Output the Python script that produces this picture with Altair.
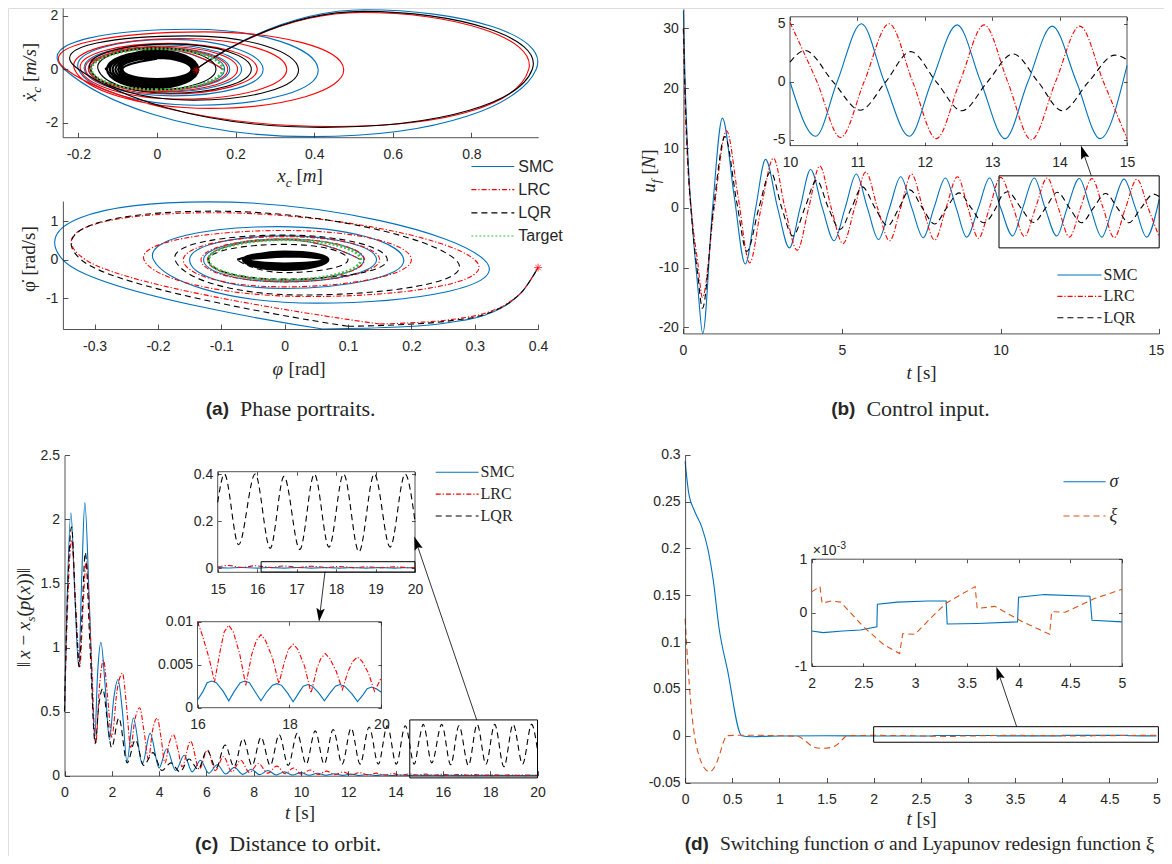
import altair as alt
import pandas as pd

# ======================= DATA =======================
# (a) top: x_c [m] vs xdot_c [m/s]; start point, then the successive extreme points of each swing
A1_SMC = [(0.100, 0.00), (0.530, 2.23), (0.965, 0.00), (0.395, -2.53), (-0.236, 0.00),
          (0.087, 1.50), (0.410, 0.00), (0.105, -1.35), (-0.200, 0.00), (0.035, 1.12),
          (0.270, 0.00), (0.040, -1.00), (-0.185, 0.00), (0.015, 0.92), (0.215, 0.00),
          (0.020, -0.85), (-0.175, 0.00), (0.007, 0.82), (0.185, 0.00), (0.008, -0.79),
          (-0.170, 0.00), (0.002, 0.78), (0.172, 0.00), (0.002, -0.77), (-0.168, 0.00),
          (0.000, 0.77), (0.167, 0.00)]
A1_LRC = [(0.100, 0.00), (0.520, 2.13), (0.946, 0.00), (0.445, -2.15), (-0.232, 0.00),
          (0.120, 1.40), (0.475, 0.00), (0.135, -1.47), (-0.210, 0.00), (0.060, 1.15),
          (0.330, 0.00), (0.065, -1.12), (-0.195, 0.00), (0.030, 0.97), (0.255, 0.00),
          (0.030, -0.93), (-0.182, 0.00), (0.012, 0.86), (0.205, 0.00), (0.012, -0.83),
          (-0.174, 0.00), (0.005, 0.80), (0.180, 0.00), (0.005, -0.78), (-0.169, 0.00),
          (0.001, 0.775), (0.168, 0.00)]
A1_LQR = [(0.100, 0.00), (0.525, 2.17), (0.955, 0.00), (0.418, -2.18), (-0.200, 0.00),
          (0.080, 1.25), (0.360, 0.00), (0.095, -1.16), (-0.170, 0.00), (0.035, 0.95),
          (0.240, 0.00), (0.035, -0.90), (-0.150, 0.00), (0.000, 0.80), (0.150, 0.00),
          (0.000, -0.77), (-0.132, 0.00)]
A1_LQR_BLOB = [(-0.132, 0.00), (-0.010, 0.72), (0.105, 0.00), (-0.010, -0.72), (-0.127, 0.00),
               (-0.008, 0.66), (0.102, 0.00), (-0.008, -0.66), (-0.120, 0.00),
               (-0.006, 0.60), (0.099, 0.00), (-0.006, -0.60), (-0.113, 0.00),
               (-0.004, 0.55), (0.096, 0.00), (-0.004, -0.54), (-0.106, 0.00),
               (-0.002, 0.50), (0.093, 0.00), (-0.002, -0.48), (-0.099, 0.00),
               (0.000, 0.45), (0.090, 0.00), (0.000, -0.42), (-0.093, 0.00),
               (0.000, 0.42), (0.088, 0.00), (0.000, -0.37), (-0.088, 0.00), (0.000, 0.40)]
A1_TARGET = [(0.167, 0.00), (0.000, -0.77), (-0.167, 0.00), (0.000, 0.77)]
A1_START = [(0.100, -0.04)]

# (a) bottom: phi [rad] vs phidot [rad/s]; first falling arc from the start point ...
A2_SMC_START = [(0.400, -0.20), (0.392, -0.42), (0.377, -0.78), (0.356, -1.10), (0.318, -1.42),
                (0.260, -1.62), (0.180, -1.74), (0.060, -1.79)]
A2_LRC_START = [(0.400, -0.20), (0.392, -0.42), (0.377, -0.78), (0.356, -1.08), (0.320, -1.36),
                (0.270, -1.53), (0.210, -1.62), (0.150, -1.66)]
A2_LQR_START = [(0.400, -0.20), (0.392, -0.42), (0.377, -0.78), (0.356, -1.09), (0.318, -1.40),
                (0.260, -1.58), (0.180, -1.68), (0.100, -1.72)]
# ... then the successive extreme points
A2_SMC = [(0.060, -1.79), (-0.350, 0.00), (-0.120, 1.50), (0.315, 0.00),
          (0.050, -1.12), (-0.207, 0.00), (-0.010, 0.86), (0.188, 0.00), (0.000, -0.74),
          (-0.150, 0.00), (0.000, 0.62), (0.145, 0.00), (0.000, -0.57), (-0.128, 0.00),
          (0.000, 0.54), (0.125, 0.00), (0.000, -0.53), (-0.121, 0.00), (0.000, 0.52),
          (0.120, 0.00)]
A2_LRC = [(0.150, -1.66), (-0.314, 0.00), (-0.110, 1.22), (0.300, 0.00),
          (0.040, -0.95), (-0.222, 0.00), (0.000, 0.76), (0.200, 0.00), (0.000, -0.70),
          (-0.160, 0.00), (0.000, 0.60), (0.150, 0.00), (0.000, -0.57), (-0.132, 0.00),
          (0.000, 0.54), (0.126, 0.00), (0.000, -0.53), (-0.122, 0.00), (0.000, 0.52),
          (0.120, 0.00)]
A2_LQR = [(0.100, -1.72), (-0.321, 0.00), (-0.110, 1.26), (0.270, 0.00),
          (0.030, -0.91), (-0.173, 0.00), (0.000, 0.64), (0.162, 0.00), (0.000, -0.50),
          (-0.120, 0.00), (0.000, 0.40), (0.100, 0.00), (0.000, -0.33), (-0.075, 0.00)]
A2_LQR_BLOB = [(-0.075, 0.00), (0.000, 0.21), (0.069, 0.00), (0.000, -0.26), (-0.066, 0.00),
               (0.000, 0.18), (0.067, 0.00), (0.000, -0.22), (-0.064, 0.00),
               (0.000, 0.155), (0.065, 0.00), (0.000, -0.185), (-0.062, 0.00),
               (0.000, 0.13), (0.064, 0.00), (0.000, -0.15), (-0.060, 0.00),
               (0.000, 0.11), (0.062, 0.00), (0.000, -0.12), (-0.057, 0.00),
               (0.000, 0.09), (0.060, 0.00), (0.000, -0.095), (-0.054, 0.00), (0.000, 0.08)]
A2_TARGET = [(0.120, 0.00), (0.000, -0.52), (-0.120, 0.00), (0.000, 0.52)]
A2_START = [(0.400, -0.20)]

# (b) control input u_f [N] vs t [s]
B_SMC = [(0.0, 33.0), (0.05, 22.0), (0.13, 10.0), (0.3, -4.0), (0.45, -13.0), (0.61, -21.0),
         (0.92, 0.0), (1.23, 15.0), (1.6, 2.0), (1.95, -9.4), (2.28, 0.0), (2.59, 8.1),
         (2.97, 0.0), (3.34, -6.7), (3.68, 0.0), (4.01, 6.4), (4.38, 0.0), (4.75, -5.5),
         (5.1, 0.0), (5.45, 5.65), (5.8, 0.0), (6.15, -5.3), (6.5, 0.0), (6.85, 5.2),
         (7.2, 0.0), (7.56, -5.0), (7.9, 0.0), (8.26, 5.0), (8.6, 0.0), (8.93, -4.9),
         (9.3, 0.0), (9.65, 5.0), (10.0, 0.0), (10.38, -4.7), (10.7, 0.0), (11.06, 5.0),
         (11.4, 0.0), (11.77, -4.7), (12.1, 0.0), (12.48, 4.9), (12.83, 0.0), (13.19, -4.9),
         (13.53, 0.0), (13.89, 4.8), (14.25, 0.0), (14.6, -4.9), (15.0, 1.4)]
B_LRC = [(0.0, 30.0), (0.05, 18.0), (0.13, 8.0), (0.3, -3.0), (0.45, -9.0), (0.6, -15.0),
         (0.97, 0.0), (1.36, 12.9), (1.72, 2.0), (2.09, -9.2), (2.45, 0.0), (2.84, 8.3),
         (3.2, 0.0), (3.59, -7.1), (3.95, 0.0), (4.3, 7.0), (4.66, 0.0), (5.03, -6.0),
         (5.4, 0.0), (5.75, 6.0), (6.12, 0.0), (6.5, -5.5), (6.85, 0.0), (7.19, 5.65),
         (7.55, 0.0), (7.92, -5.4), (8.28, 0.0), (8.64, 5.2), (8.97, 0.0), (9.3, -5.1),
         (9.65, 0.0), (10.0, 5.1), (10.4, 0.0), (10.75, -4.8), (11.1, 0.0), (11.47, 5.0),
         (11.82, 0.0), (12.17, -4.9), (12.52, 0.0), (12.88, 4.9), (13.23, 0.0), (13.58, -5.0),
         (13.94, 0.0), (14.3, 4.8), (14.65, 0.0), (15.0, -4.9)]
B_LQR = [(0.0, 30.0), (0.05, 20.0), (0.13, 9.0), (0.3, -4.0), (0.45, -11.0), (0.6, -16.8),
         (0.95, 0.0), (1.31, 11.9), (1.68, 1.0), (2.0, -7.3), (2.38, 0.0), (2.75, 6.0),
         (3.1, 0.0), (3.45, -4.7), (3.83, 0.0), (4.2, 4.6), (4.57, 0.0), (4.94, -3.6),
         (5.3, 0.0), (5.64, 3.5), (6.04, 0.0), (6.44, -3.0), (6.8, 0.0), (7.14, 3.0),
         (7.53, 0.0), (7.92, -2.7), (8.3, 0.0), (8.69, 2.5), (9.07, 0.0), (9.46, -2.5),
         (9.85, 0.0), (10.0, 1.7), (10.22, 2.7), (10.64, 0.0), (11.04, -2.45), (11.42, 0.0),
         (11.79, 2.6), (12.17, 0.0), (12.55, -2.5), (12.93, 0.0), (13.31, 2.4), (13.68, 0.0),
         (14.04, -2.5), (14.43, 0.0), (14.82, 2.3), (15.0, 1.9)]

# (c) distance to orbit vs t [s]
C_SMC = [(0.0, 0.50), (0.1, 1.30), (0.27, 2.05), (0.44, 1.40), (0.6, 0.85), (0.73, 1.55),
         (0.86, 2.13), (1.06, 1.30), (1.28, 0.30), (1.4, 0.80), (1.54, 1.04), (1.72, 0.70),
         (1.9, 0.28), (2.08, 0.60), (2.26, 0.75), (2.45, 0.50), (2.64, 0.11), (2.91, 0.45),
         (3.29, 0.09), (3.62, 0.33), (4.0, 0.06), (4.32, 0.21), (4.7, 0.04), (5.06, 0.16),
         (5.4, 0.03), (5.75, 0.12), (6.1, 0.02), (6.46, 0.085), (6.82, 0.013), (7.18, 0.065),
         (7.54, 0.010), (7.9, 0.05), (8.25, 0.008), (8.6, 0.04), (8.95, 0.006), (9.3, 0.03),
         (9.65, 0.005), (10.0, 0.024), (10.35, 0.004), (10.7, 0.019), (11.05, 0.003),
         (11.4, 0.015), (11.75, 0.0025), (12.1, 0.012), (12.45, 0.002), (12.8, 0.009),
         (13.15, 0.0015), (13.5, 0.007), (13.85, 0.0012), (14.2, 0.0055), (14.55, 0.001),
         (14.9, 0.0045), (15.0, 0.0040), (15.25, 0.001), (15.6, 0.0037),
         (16.0, 0.0009), (16.12, 0.0019), (16.21, 0.0029), (16.31, 0.0031), (16.41, 0.0029),
         (16.56, 0.0019), (16.68, 0.0008), (16.8, 0.0019), (16.93, 0.0029), (17.03, 0.0031),
         (17.13, 0.0029), (17.26, 0.0018), (17.38, 0.0008), (17.5, 0.0018), (17.63, 0.0026),
         (17.73, 0.0028), (17.83, 0.0026), (17.96, 0.0017), (18.08, 0.0007), (18.2, 0.0017),
         (18.3, 0.0025), (18.4, 0.0027), (18.5, 0.0025), (18.64, 0.0017), (18.76, 0.0008),
         (18.88, 0.0017), (19.0, 0.0025), (19.1, 0.0027), (19.2, 0.0025), (19.36, 0.0016),
         (19.48, 0.0007), (19.6, 0.0015), (19.69, 0.0022), (19.79, 0.0024), (19.89, 0.0022),
         (20.0, 0.0018)]
C_LRC = [(0.0, 0.50), (0.1, 1.15), (0.3, 1.84), (0.48, 1.30), (0.65, 0.85), (0.78, 1.30),
         (0.92, 1.67), (1.12, 1.00), (1.32, 0.25), (1.48, 0.70), (1.65, 0.90), (1.82, 0.62),
         (2.0, 0.30), (2.22, 0.66), (2.45, 0.80), (2.62, 0.55), (2.8, 0.22), (2.97, 0.43),
         (3.18, 0.53), (3.36, 0.35), (3.55, 0.13), (3.72, 0.35), (3.92, 0.45), (4.08, 0.30),
         (4.25, 0.10), (4.42, 0.25), (4.6, 0.32), (4.8, 0.20), (4.97, 0.07), (5.33, 0.27),
         (5.7, 0.05), (6.04, 0.20), (6.38, 0.04), (6.72, 0.15), (7.08, 0.03), (7.45, 0.12),
         (7.82, 0.025), (8.2, 0.095), (8.6, 0.02), (8.98, 0.075), (9.33, 0.015), (9.68, 0.06),
         (10.03, 0.012), (10.38, 0.045), (10.73, 0.010), (11.08, 0.036), (11.43, 0.008),
         (11.78, 0.030), (12.13, 0.007), (12.48, 0.024), (12.83, 0.006), (13.18, 0.020),
         (13.53, 0.005), (13.88, 0.016), (14.23, 0.0045), (14.58, 0.014), (14.93, 0.004),
         (15.0, 0.0055), (15.28, 0.012), (15.63, 0.0035), (15.95, 0.0108),
         (16.0, 0.0101), (16.1, 0.0085), (16.25, 0.0058), (16.37, 0.0030), (16.5, 0.0068),
         (16.58, 0.0088), (16.68, 0.0096), (16.78, 0.0088), (16.92, 0.0062), (17.05, 0.0026),
         (17.18, 0.0062), (17.28, 0.0078), (17.38, 0.0085), (17.48, 0.0078), (17.63, 0.0058),
         (17.77, 0.0028), (17.9, 0.0055), (17.98, 0.0068), (18.08, 0.0074), (18.18, 0.0068),
         (18.33, 0.0048), (18.47, 0.0017), (18.6, 0.0046), (18.68, 0.0057), (18.78, 0.0063),
         (18.88, 0.0057), (19.02, 0.0042), (19.15, 0.0021), (19.28, 0.0043), (19.38, 0.0054),
         (19.48, 0.0059), (19.58, 0.0054), (19.72, 0.0040), (19.85, 0.0019), (20.0, 0.0035)]
C_LQR = [(0.0, 0.50), (0.1, 1.25), (0.3, 1.94), (0.47, 1.30), (0.62, 0.85), (0.75, 1.30),
         (0.88, 1.74), (1.08, 1.00), (1.3, 0.25), (1.45, 0.55), (1.62, 0.68), (1.8, 0.45),
         (1.99, 0.22), (2.3, 0.45), (2.65, 0.10), (3.0, 0.28), (3.35, 0.08), (3.74, 0.18),
         (4.12, 0.04), (4.5, 0.10), (4.88, 0.03), (5.27, 0.13), (5.65, 0.05), (6.03, 0.20),
         (6.41, 0.06), (6.79, 0.24), (7.17, 0.07), (7.55, 0.29), (7.93, 0.08), (8.31, 0.30),
         (8.7, 0.08), (9.08, 0.32), (9.46, 0.08), (9.84, 0.33), (10.22, 0.09), (10.6, 0.35),
         (10.98, 0.09), (11.36, 0.36), (11.74, 0.09), (12.12, 0.37), (12.5, 0.09), (12.88, 0.38),
         (13.27, 0.09), (13.65, 0.39), (14.03, 0.09), (14.41, 0.39), (14.79, 0.09), (15.0, 0.28),
         (15.17, 0.40), (15.53, 0.10), (15.95, 0.40), (16.33, 0.085), (16.68, 0.39),
         (17.08, 0.08), (17.45, 0.40), (17.82, 0.09), (18.19, 0.40), (18.58, 0.07),
         (18.97, 0.40), (19.37, 0.09), (19.75, 0.40), (20.0, 0.20)]

# (d) sigma and xi vs t [s]
D_SIGMA = [(0.0, 0.293), (0.04, 0.258), (0.1, 0.240), (0.18, 0.222), (0.24, 0.200),
           (0.3, 0.165), (0.36, 0.115), (0.45, 0.070), (0.6, 0.0), (0.7, -0.0012),
           (0.8, -0.0008), (1.0, -0.0003), (1.5, 0.0), (2.0, -0.00034), (2.11, -0.00037),
           (2.3, -0.00034), (2.47, -0.00032), (2.63, -0.00026), (2.635, 0.00016),
           (2.83, 0.00020), (3.12, 0.00022), (3.3, 0.00022), (3.31, -0.00021), (3.6, -0.00020),
           (3.99, -0.00017), (4.0, 0.00029), (4.25, 0.00034), (4.69, 0.00031), (4.71, -0.00014),
           (5.0, -0.00017)]
D_XI = [(0.0, 0.125), (0.03, 0.075), (0.06, 0.035), (0.1, 0.0), (0.15, -0.022),
        (0.2, -0.034), (0.26, -0.0385), (0.31, -0.034), (0.36, -0.022), (0.41, -0.006),
        (0.44, 0.0), (0.6, 0.0005), (1.0, 0.0), (1.2, -0.0008), (1.28, -0.006),
        (1.36, -0.012), (1.45, -0.0135), (1.55, -0.0125), (1.62, -0.009), (1.68, -0.003),
        (1.72, 0.0), (1.85, 0.0002), (2.0, 0.00039), (2.08, 0.00049), (2.1, 0.00018),
        (2.19, 0.00022), (2.28, 0.00020), (2.5, -0.00026), (2.7, -0.00060), (2.85, -0.00076),
        (2.88, -0.00039), (3.0, -0.00040), (3.15, -0.00010), (3.3, 0.00018), (3.58, 0.00049),
        (3.6, 0.00008), (3.77, 0.00012), (4.04, -0.00017), (4.3, -0.00040), (4.32, 0.00002),
        (4.45, 0.00001), (4.74, 0.00027), (5.0, 0.00044)]

# zoom boxes (system, x0, x1, y0, y1) and arrows (system, x0, y0, x1, y1, angle)
ZOOM_BOXES = [("B", 9.95, 15.0, -6.7, 5.35), ("C", 14.6, 20.0, -0.017, 0.435),
              ("CI1", 16.1, 20.0, -0.016, 0.028), ("D", 2.0, 5.02, -0.007, 0.0096)]
ARROWS = [("B", 12.86, 5.35, 12.625, 8.93, 341.6), ("C", 17.43, 0.435, 14.918, 1.796, 341.2),
          ("C", 11.015, 1.591, 10.808, 1.273, 186.8), ("D", 3.517, 0.0096, 3.333, 0.0643, 341.2)]

# tick values
A1_XT = [-0.2, 0, 0.2, 0.4, 0.6, 0.8]
A1_YT = [-2, 0, 2]
A2_XT = [-0.3, -0.2, -0.1, 0, 0.1, 0.2, 0.3, 0.4]
A2_YT = [-1, 0, 1]
B_XT = [0, 5, 10, 15]
B_YT = [-20, -10, 0, 10, 20, 30]
BI_XT = [10, 11, 12, 13, 14, 15]
BI_YT = [-5, 0, 5]
C_XT = [0, 2, 4, 6, 8, 10, 12, 14, 16, 18, 20]
C_YT = [0, 0.5, 1, 1.5, 2, 2.5]
CI1_XT = [15, 16, 17, 18, 19, 20]
CI1_YT = [0, 0.2, 0.4]
CI2_XT = [16, 18, 20]
CI2_YT = [0, 0.005, 0.01]
D_XT = [0, 0.5, 1, 1.5, 2, 2.5, 3, 3.5, 4, 4.5, 5]
D_YT = [-0.05, 0, 0.05, 0.1, 0.15, 0.2, 0.25, 0.3]
DI_XT = [2, 2.5, 3, 3.5, 4, 4.5, 5]
DI_YT = [-0.001, 0, 0.001]

SERIES3 = ["SMC", "LRC", "LQR"]
SERIES4 = ["SMC", "LRC", "LQR", "Target"]
SERIES_D = ["σ", "ξ"]

# axis titles with math styling: (system, x, y, angle, [(text, italic, subscript), ...])
TITLES = [
    ("A1", 0.364, -4.231, 0, [("x", 1, 0), ("c", 1, 1), (" [", 0, 0), ("m", 1, 0), ("]", 0, 0)]),
    ("A1", -0.3079, -0.105, 270, [("ẋ", 1, 0), ("c", 1, 1), (" [", 0, 0), ("m/s", 1, 0), ("]", 0, 0)]),
    ("A2", 0.0243, -2.981, 0, [("φ", 1, 0), (" [rad]", 0, 0)]),
    ("A2", -0.3940, 0.047, 270, [("φ̇", 0, 0), (" [rad/s]", 0, 0)]),
    ("B", 7.51, -28.63, 0, [("t", 1, 0), (" [s]", 0, 0)]),
    ("B", -0.895, 6.15, 270, [("u", 1, 0), ("f", 1, 1), (" [", 0, 0), ("N", 1, 0), ("]", 0, 0)]),
    ("C", 9.958, -0.3378, 0, [("t", 1, 0), (" [s]", 0, 0)]),
    ("C", -1.458, 1.2457, 270, [("‖", 0, 0), ("x", 1, 0), (" − ", 0, 0), ("x", 1, 0), ("s", 1, 1),
                               ("(", 0, 0), ("p", 1, 0), ("(", 0, 0), ("x", 1, 0), ("))", 0, 0),
                               ("‖", 0, 0)]),
    ("D", 2.508, -0.0954, 0, [("t", 1, 0), (" [s]", 0, 0)]),
]

# caption anchors (system, x, y, tag, text, text size)
CAPTIONS = [("A2", -0.080, -3.868, "(a)", "Phase portraits.", 22),
            ("B", 5.580, -33.7, "(b)", "Control input.", 22),
            ("C", 6.712, -0.533, "(c)", "Distance to orbit.", 22),
            ("D", 0.3055, -0.1157, "(d)", "Switching function σ and Lyapunov redesign function ξ", 19.5)]

# ======================= LAYOUT / STYLE =======================
W, H, M = 1156, 848, 8
DARK = "#262626"
BLUE, RED, BLACK, GREEN, ORANGE = "#0072BD", "#FF0000", "#000000", "#44BB44", "#D95319"
SANS, SERIF = "Liberation Sans", "Liberation Serif"
LRC_DASH, LQR_DASH, TGT_DASH, XI_DASH, SOLID = [5, 2, 1.2, 2], [6, 4], [2, 2], [6, 4], [1, 0]
TENSION = -0.657
LBL = "'' + datum.value"
STAR = "M-1,0L1,0M0,-1L0,1M-0.7,-0.7L0.7,0.7M-0.7,0.7L0.7,-0.7"
HEAD = "M0,-1L0.45,0.45L0,0.2L-0.45,0.45Z"
TICK_FS = 14
TITLE_FS, SUB_FS = 19, 13.5
CHAR_W = {" ": 0.25, "[": 0.333, "]": 0.333, "/": 0.278, "(": 0.333, ")": 0.333, "x": 0.444,
          "c": 0.444, "m": 0.722, "s": 0.389, "u": 0.5, "f": 0.278, "N": 0.667, "t": 0.278,
          "r": 0.389, "a": 0.5, "d": 0.5, "p": 0.5, "φ": 0.6, "ẋ": 0.444, "−": 0.564,
          "‖": 0.45, "\u0307": 0.0}

# coordinate systems: x-domain, x-pixels, y-domain, y-pixels (page coordinates)
SYS = {
    "A1": ([-0.24, 0.97], [62.7, 538.2], [-2.55, 2.3], [137.2, 7.9]),
    "A2": ([-0.35, 0.40], [62.9, 538.1], [-1.79, 1.52], [329.0, 201.1]),
    "B": ([0, 15], [683.4, 1159.2], [-21, 33.3], [333.4, 8.7]),
    "BI": ([10, 15], [790.0, 1127.0], [-5.5, 5.6], [145.6, 16.8]),
    "C": ([0, 20], [64.5, 537.5], [0, 2.5], [775.7, 455.2]),
    "CI1": ([15, 20], [217.7, 415.0], [-0.017, 0.41], [572.3, 471.7]),
    "CI2": ([16, 20], [197.5, 381.4], [0, 0.01], [707.7, 621.7]),
    "D": ([0, 5], [685.1, 1156.5], [-0.05, 0.3], [782.5, 454.8]),
    "DI": ([2, 5], [811.7, 1122.0], [-0.001, 0.001], [666.4, 559.2]),
}
LEG = {  # labels, y-pixels, x-pixels of line sample
    "A": (SERIES4, [166.5, 236.0], [471.4, 514.3]),
    "B": (SERIES3, [275.0, 317.7], [1057.4, 1101.5]),
    "C": (SERIES3, [472.3, 516.0], [435.7, 478.6]),
    "D": (SERIES_D, [481.7, 516.0], [1063.5, 1105.6]),
}


def XY(name, xf="x", yf="y", xaxis=None, yaxis=None):
    xd, xr, yd, yr = SYS[name]
    xs = alt.Scale(domain=xd, range=[xr[0] - M, xr[1] - M], nice=False, zero=False)
    ys = alt.Scale(domain=yd, range=[yr[0] - M, yr[1] - M], nice=False, zero=False,
                   clamp=(name == "CI2"))
    return {"x": alt.X(xf, type="quantitative", scale=xs, axis=xaxis),
            "y": alt.Y(yf, type="quantitative", scale=ys, axis=yaxis)}


def frame(rows):
    df = pd.DataFrame(rows, columns=["x", "y"])
    df["i"] = range(len(df))
    return df


def line(name, rows, color, width=1.1, dash=None, interp="monotone", tension=None,
         tmin=None, ordered=False):
    kw = dict(color=color, strokeWidth=width, interpolate=interp)
    if dash:
        kw["strokeDash"] = dash
    if tension is not None:
        kw["tension"] = tension
    ch = XY(name)
    if ordered:
        ch["order"] = alt.Order("i", type="quantitative")
    c = alt.Chart(frame(rows))
    if tmin is not None:
        c = c.transform_filter(alt.datum.x >= tmin)
    return c.mark_line(**kw).encode(**ch)


def phase(name, rows, color, width=1.1, dash=None):
    return line(name, rows, color, width, dash, "cardinal", TENSION, ordered=True)


def star(name, rows):
    return alt.Chart(frame(rows)).mark_point(shape=STAR, size=60, color=RED, strokeWidth=1,
                                             filled=False).encode(**XY(name))


def rect(name, x0, x1, y0, y1, fill=None, stroke=BLACK, width=1.0):
    df = pd.DataFrame({"x0": [x0], "x1": [x1], "y0": [y0], "y1": [y1]})
    ch = XY(name, "x0", "y0")
    ch["x2"] = alt.X2(field="x1")
    ch["y2"] = alt.Y2(field="y1")
    if fill:
        mk = alt.Chart(df).mark_rect(fill=fill, stroke=stroke, strokeWidth=width)
    else:
        mk = alt.Chart(df).mark_rect(fillOpacity=0, stroke=stroke, strokeWidth=width)
    return mk.encode(**ch)


def arrow(name, x0, y0, x1, y1, ang):
    df = pd.DataFrame({"x0": [x0], "y0": [y0], "x1": [x1], "y1": [y1]})
    ch = XY(name, "x0", "y0")
    ch["x2"] = alt.X2(field="x1")
    ch["y2"] = alt.Y2(field="y1")
    r = alt.Chart(df).mark_rule(color=BLACK, strokeWidth=0.8).encode(**ch)
    h = alt.Chart(df).mark_point(shape=HEAD, size=350, filled=True, color=BLACK, opacity=1,
                                 angle=ang).encode(**XY(name, "x1", "y1"))
    return [r, h]


def label_axis(orient, offset, values, domain=True, expr=LBL, flush=False):
    if flush:
        extra = dict(labelFlush=True, labelFlushOffset=4.5)
    else:
        extra = dict(labelFlush=False)
    return alt.Axis(orient=orient, offset=offset, values=values, ticks=False, tickSize=0,
                    domain=domain, domainColor=DARK, domainWidth=0.8, labels=True,
                    labelFont=SANS, labelFontSize=TICK_FS, labelColor=DARK, labelExpr=expr,
                    labelOverlap=False, labelPadding=10 if orient == "bottom" else 5,
                    grid=False, zindex=1, title=None, **extra)


def tick_axis(orient, offset, values, size):
    return alt.Axis(orient=orient, offset=offset, values=values, ticks=True, tickSize=size,
                    tickColor=DARK, tickWidth=0.8, labels=False, domain=False, grid=False,
                    title=None, zindex=1)


def axes(name, xa, ya):
    xd, _, yd, _ = SYS[name]
    df = pd.DataFrame({"x": [xd[0]], "y": [yd[0]]})
    return alt.Chart(df).mark_point(opacity=0).encode(**XY(name, xaxis=xa, yaxis=ya))


def main_axes(name, xv, yv, tick=5, flush=False):
    _, xr, _, yr = SYS[name]
    yb, xl = yr[0] - M, xr[0] - M
    return [axes(name, label_axis("bottom", yb - H, xv, flush=flush), label_axis("left", -xl, yv)),
            axes(name, tick_axis("top", -yb, xv, tick), tick_axis("right", xl - W, yv, tick))]


def inset_axes(name, xv, yv, yexpr=LBL, tick=3.5):
    _, xr, _, yr = SYS[name]
    yb, yt, xl, xrr = yr[0] - M, yr[1] - M, xr[0] - M, xr[1] - M
    return [axes(name, label_axis("bottom", yb - H, xv, False),
                 label_axis("left", -xl, yv, False, yexpr)),
            axes(name, tick_axis("top", -yb, xv, tick), tick_axis("right", xl - W, yv, tick)),
            axes(name, tick_axis("bottom", yt - H, xv, tick), tick_axis("left", -xrr, yv, tick))]


def inset_frame(name):
    xd, _, yd, _ = SYS[name]
    return rect(name, xd[0], xd[1], yd[0], yd[1], fill="white", stroke=DARK, width=0.8)


def legend(key, colors, dashes, widths, font, size, style="normal", gap=3):
    labels, yr, xr = LEG[key]
    df = pd.DataFrame({"lab": labels, "a": [0.0] * len(labels), "b": [1.0] * len(labels)})
    xs = alt.Scale(domain=[0, 1], range=[xr[0] - M, xr[1] - M])
    ys = alt.Scale(type="point", domain=labels, range=[yr[0] - M, yr[1] - M], padding=0)
    rules = alt.Chart(df).mark_rule().encode(
        x=alt.X("a", type="quantitative", scale=xs, axis=None), x2=alt.X2(field="b"),
        y=alt.Y("lab", type="nominal", scale=ys, axis=None),
        color=alt.Color("lab", type="nominal", scale=alt.Scale(domain=labels, range=colors), legend=None),
        strokeDash=alt.StrokeDash("lab", type="nominal", scale=alt.Scale(domain=labels, range=dashes), legend=None),
        strokeWidth=alt.StrokeWidth("lab", type="nominal", scale=alt.Scale(domain=labels, range=widths), legend=None))
    texts = alt.Chart(df).mark_text(align="left", baseline="middle", dx=gap, font=font, fontSize=size,
                                    fontStyle=style, color=DARK).encode(
        x=alt.X("b", type="quantitative", scale=xs, axis=None),
        y=alt.Y("lab", type="nominal", scale=ys, axis=None), text=alt.Text("lab", type="nominal"))
    return [rules, texts]


def text_width(t, size):
    return sum(CHAR_W.get(ch, 0.5) for ch in t) * size


def rich_title(name, x, y, angle, pieces):
    sizes = [SUB_FS if sub else TITLE_FS for _, _, sub in pieces]
    total = sum(text_width(t, s) for (t, _, _), s in zip(pieces, sizes))
    pos = -total / 2.0
    df = pd.DataFrame({"x": [x], "y": [y]})
    out = []
    for (t, it, sub), s in zip(pieces, sizes):
        core = t.strip(" ")
        lead = len(t) - len(t.lstrip(" "))
        trail = len(t) - len(t.rstrip(" "))
        pos += lead * CHAR_W[" "] * s
        out.append(alt.Chart(df).mark_text(
            text=core, align="left", baseline="alphabetic", dx=pos, dy=5 if sub else 0, angle=angle,
            font=SERIF, fontSize=s, fontStyle="italic" if it else "normal", color=DARK
        ).encode(**XY(name)))
        pos += text_width(core, s) + trail * CHAR_W[" "] * s
    return out


def caption(name, x, y, tag, text, size):
    df = pd.DataFrame({"x": [x], "y": [y], "tag": [tag], "txt": [text]})
    a = alt.Chart(df).mark_text(align="right", baseline="middle", dx=-5, font=SANS, fontWeight="bold",
                                fontSize=19, color=DARK).encode(text=alt.Text("tag", type="nominal"), **XY(name))
    b = alt.Chart(df).mark_text(align="left", baseline="middle", dx=6, font=SERIF, fontSize=size,
                                color=DARK).encode(text=alt.Text("txt", type="nominal"), **XY(name))
    return [a, b]


L = []
# ---------- (a) top ----------
L += [phase("A1", A1_SMC, BLUE), phase("A1", A1_LRC, RED), phase("A1", A1_LQR, BLACK),
      phase("A1", A1_LQR_BLOB, BLACK, width=2.2),
      line("A1", A1_TARGET, GREEN, 2.8, TGT_DASH, "cardinal-closed", TENSION, ordered=True),
      star("A1", A1_START)]
L += main_axes("A1", A1_XT, A1_YT)
# ---------- (a) bottom ----------
L += [line("A2", A2_SMC_START, BLUE), line("A2", A2_LRC_START, RED, dash=LRC_DASH),
      line("A2", A2_LQR_START, BLACK, dash=LQR_DASH)]
L += [phase("A2", A2_SMC, BLUE), phase("A2", A2_LRC, RED, dash=LRC_DASH),
      phase("A2", A2_LQR, BLACK, dash=LQR_DASH), phase("A2", A2_LQR_BLOB, BLACK, width=2.2),
      line("A2", A2_TARGET, GREEN, 2.8, TGT_DASH, "cardinal-closed", TENSION, ordered=True),
      star("A2", A2_START)]
L += main_axes("A2", A2_XT, A2_YT)
L += legend("A", [BLUE, RED, BLACK, GREEN], [SOLID, LRC_DASH, LQR_DASH, TGT_DASH], [1.1, 1.1, 1.1, 2.8],
            SANS, 16, gap=4)

# ---------- (b) ----------
L += [line("B", B_SMC, BLUE), line("B", B_LRC, RED, dash=LRC_DASH), line("B", B_LQR, BLACK, dash=LQR_DASH)]
L += main_axes("B", B_XT, B_YT, flush=True)
L += [rect("B", *ZOOM_BOXES[0][1:])]
L += [inset_frame("BI"), line("BI", B_SMC, BLUE, tmin=10), line("BI", B_LRC, RED, dash=LRC_DASH, tmin=10),
      line("BI", B_LQR, BLACK, dash=LQR_DASH, tmin=10)]
L += inset_axes("BI", BI_XT, BI_YT)
L += arrow(*ARROWS[0])
L += legend("B", [BLUE, RED, BLACK], [SOLID, LRC_DASH, LQR_DASH], [1.1, 1.1, 1.1], SERIF, 16, gap=2)

# ---------- (c) ----------
L += [line("C", C_SMC, BLUE), line("C", C_LRC, RED, dash=LRC_DASH), line("C", C_LQR, BLACK, dash=LQR_DASH)]
L += main_axes("C", C_XT, C_YT)
L += [rect("C", *ZOOM_BOXES[1][1:])]
L += [inset_frame("CI1"), line("CI1", C_SMC, BLUE, tmin=15), line("CI1", C_LRC, RED, dash=LRC_DASH, tmin=15),
      line("CI1", C_LQR, BLACK, dash=LQR_DASH, tmin=15), rect("CI1", *ZOOM_BOXES[2][1:])]
L += inset_axes("CI1", CI1_XT, CI1_YT)
L += [inset_frame("CI2"), line("CI2", C_SMC, BLUE, interp="linear", tmin=16),
      line("CI2", C_LRC, RED, dash=LRC_DASH, interp="linear", tmin=16)]
L += inset_axes("CI2", CI2_XT, CI2_YT)
L += arrow(*ARROWS[1]) + arrow(*ARROWS[2])
L += legend("C", [BLUE, RED, BLACK], [SOLID, LRC_DASH, LQR_DASH], [1.1, 1.1, 1.1], SERIF, 16, gap=2)

# ---------- (d) ----------
L += [line("D", D_SIGMA, BLUE), line("D", D_XI, ORANGE, dash=XI_DASH)]
L += main_axes("D", D_XT, D_YT)
L += [rect("D", *ZOOM_BOXES[3][1:])]
L += [inset_frame("DI"), line("DI", D_SIGMA, BLUE, interp="linear", tmin=2),
      line("DI", D_XI, ORANGE, dash=XI_DASH, interp="linear", tmin=2)]
L += inset_axes("DI", DI_XT, DI_YT, yexpr="'' + round(datum.value * 1000)")
_exp = pd.DataFrame({"x": [2.0], "y": [0.001], "a": ["×10"], "b": ["-3"]})
L += [alt.Chart(_exp).mark_text(align="left", baseline="alphabetic", dx=1, dy=-4, font=SANS, fontSize=14,
                                color=DARK).encode(text=alt.Text("a", type="nominal"), **XY("DI")),
      alt.Chart(_exp).mark_text(align="left", baseline="alphabetic", dx=25, dy=-10, font=SANS, fontSize=10.5,
                                color=DARK).encode(text=alt.Text("b", type="nominal"), **XY("DI"))]
L += arrow(*ARROWS[3])
L += legend("D", [BLUE, ORANGE], [SOLID, XI_DASH], [1.1, 1.1], SERIF, 18, style="italic", gap=4)

# ---------- axis titles and captions ----------
for tt in TITLES:
    L += rich_title(*tt)
for cp in CAPTIONS:
    L += caption(*cp)

chart = alt.layer(*L).resolve_scale(
    x="independent", y="independent", color="independent", strokeDash="independent",
    strokeWidth="independent"
).properties(width=W, height=H, padding=0, autosize=alt.AutoSizeParams(type="none")
).configure_view(stroke=None).configure(background="white")

chart.save("out.html", embed_options={"renderer": "svg", "actions": False})
